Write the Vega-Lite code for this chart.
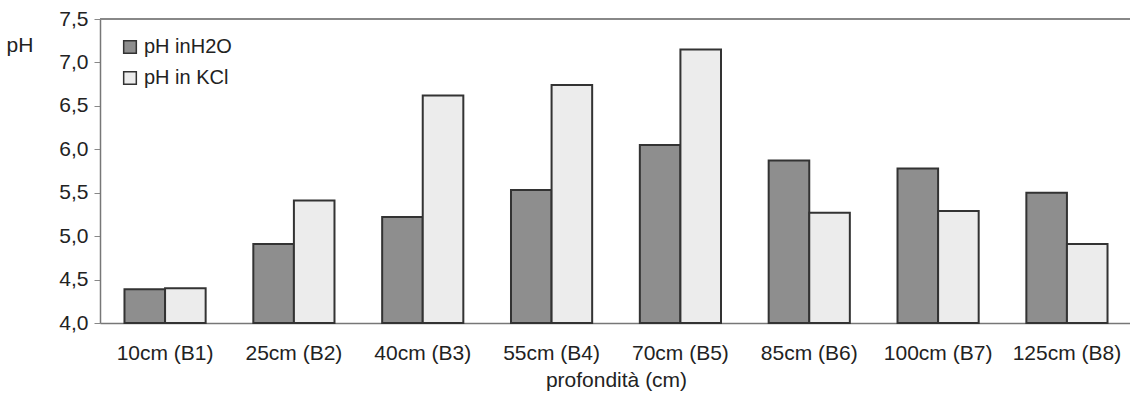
{
  "$schema": "https://vega.github.io/schema/vega-lite/v6.json",
  "autosize": {"type": "none"},
  "width": 1032,
  "height": 304,
  "padding": {"left": 100, "top": 19, "right": 0, "bottom": 71},
  "background": "white",
  "config": {
    "font": "Liberation Sans",
    "view": {"stroke": null},
    "axis": {"labelFont": "Liberation Sans", "titleFont": "Liberation Sans", "labelColor": "#222", "titleColor": "#222"}
  },
  "data": {
    "values": [
      {"cat": "10cm (B1)", "serie": "pH inH2O", "ph": 4.39},
      {"cat": "10cm (B1)", "serie": "pH in KCl", "ph": 4.40},
      {"cat": "25cm (B2)", "serie": "pH inH2O", "ph": 4.91},
      {"cat": "25cm (B2)", "serie": "pH in KCl", "ph": 5.41},
      {"cat": "40cm (B3)", "serie": "pH inH2O", "ph": 5.22},
      {"cat": "40cm (B3)", "serie": "pH in KCl", "ph": 6.62},
      {"cat": "55cm (B4)", "serie": "pH inH2O", "ph": 5.53},
      {"cat": "55cm (B4)", "serie": "pH in KCl", "ph": 6.74},
      {"cat": "70cm (B5)", "serie": "pH inH2O", "ph": 6.05},
      {"cat": "70cm (B5)", "serie": "pH in KCl", "ph": 7.15},
      {"cat": "85cm (B6)", "serie": "pH inH2O", "ph": 5.87},
      {"cat": "85cm (B6)", "serie": "pH in KCl", "ph": 5.27},
      {"cat": "100cm (B7)", "serie": "pH inH2O", "ph": 5.78},
      {"cat": "100cm (B7)", "serie": "pH in KCl", "ph": 5.29},
      {"cat": "125cm (B8)", "serie": "pH inH2O", "ph": 5.50},
      {"cat": "125cm (B8)", "serie": "pH in KCl", "ph": 4.91}
    ]
  },
  "layer": [
    {
      "mark": {"type": "bar", "stroke": "#333", "strokeWidth": 2},
      "encoding": {
        "x": {
          "field": "cat", "type": "nominal", "sort": null,
          "scale": {"paddingInner": 0.37, "paddingOuter": 0.19},
          "axis": {
            "title": "profondità (cm)", "labelAngle": 0, "labelFontSize": 21, "titleFontSize": 21,
            "titleFontWeight": "normal", "ticks": false, "labelPadding": 19, "titlePadding": 6,
            "domainColor": "#777", "domainWidth": 1.5, "labelOverlap": false
          }
        },
        "xOffset": {"field": "serie", "type": "nominal", "sort": ["pH inH2O", "pH in KCl"], "scale": {"paddingInner": 0, "paddingOuter": 0}},
        "y": {
          "field": "ph", "type": "quantitative",
          "scale": {"domain": [4, 7.5], "zero": false, "nice": false},
          "axis": {
            "title": "pH", "titleAngle": 0, "titleAlign": "left", "titleBaseline": "middle",
            "titleX": -94, "titleY": 26, "titleFontSize": 21, "titleFontWeight": "normal",
            "values": [4, 4.5, 5, 5.5, 6, 6.5, 7, 7.5],
            "format": ".1f",
            "labelExpr": "replace(datum.label, '.', ',')",
            "labelOverlap": false, "labelFlush": false,
            "labelFontSize": 21, "labelPadding": 6, "tickSize": 6, "tickColor": "#888",
            "domainColor": "#777", "domainWidth": 1.5, "grid": false
          }
        },
        "y2": {"datum": 4},
        "fill": {
          "field": "serie", "type": "nominal", "sort": ["pH inH2O", "pH in KCl"],
          "scale": {"domain": ["pH inH2O", "pH in KCl"], "range": ["#8e8e8e", "#ececec"]},
          "legend": {
            "title": null, "orient": "none", "legendX": 20, "legendY": 18,
            "symbolType": "square", "symbolSize": 160, "symbolStrokeColor": "#333", "symbolStrokeWidth": 1.5,
            "labelFontSize": 20, "labelColor": "#222", "rowPadding": 11, "labelOffset": 4
          }
        }
      }
    },
    {
      "mark": {"type": "rule", "color": "#888", "strokeWidth": 1.5},
      "encoding": {"y": {"datum": 7.5}}
    }
  ]
}
